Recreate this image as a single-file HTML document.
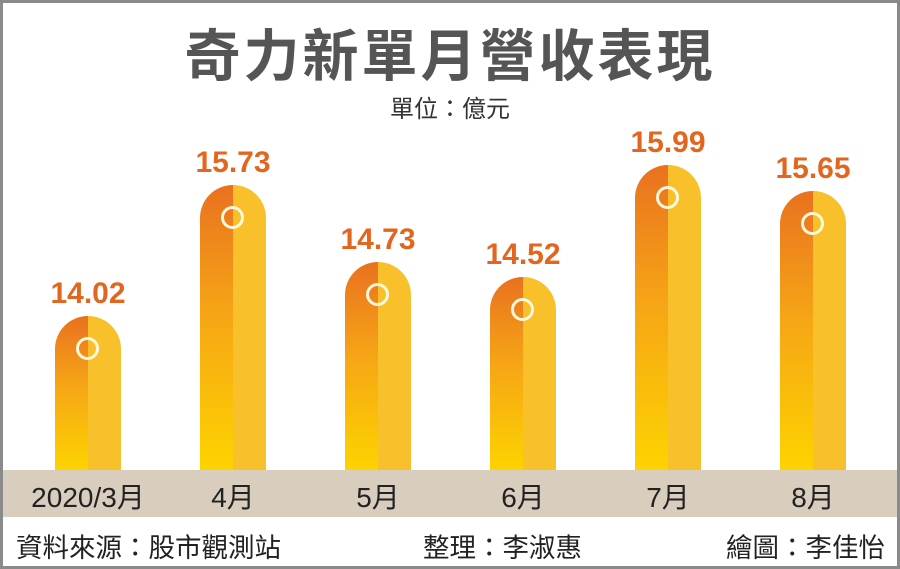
<!DOCTYPE html><html><head><meta charset="utf-8"><style>
body{margin:0;width:900px;height:569px;overflow:hidden;background:#fff;font-family:"Liberation Sans","Noto Sans CJK TC",sans-serif}
.f{position:absolute;left:0;top:0;width:894px;height:563px;border:3px solid #8a8a8a}
.t{position:absolute;left:0;width:900px;text-align:center}
.bar{position:absolute;width:66px;border-radius:33px 33px 0 0;overflow:hidden;bottom:99px}
.l{position:absolute;left:0;top:0;width:33px;height:100%;background:linear-gradient(#e9711f,#f6a516 45%,#fdd300)}
.r{position:absolute;left:33px;top:0;width:33px;height:100%;background:#f8c02a}
.c{position:absolute;left:21px;top:21px;width:17px;height:17px;border:3.5px solid #fff8dc;border-radius:50%}
.v{position:absolute;width:120px;text-align:center;color:#e2661e;font-weight:bold;font-size:30px}
.x{position:absolute;top:476px;width:160px;text-align:center;font-size:28px;color:#222}
.ft{position:absolute;top:526px;font-size:26.5px;color:#222}
</style></head><body><div class="f"></div>
<div class="t" style="top:12px;font-size:56px;font-weight:bold;color:#555;letter-spacing:3px">奇力新單月營收表現</div>
<div class="t" style="top:89px;font-size:24px;color:#333">單位：億元</div>
<div style="position:absolute;left:3px;top:470px;width:894px;height:47px;background:#d9cdbd"></div>
<div class="bar" style="left:55px;top:316px"><div class="l"></div><div class="r"></div><div class="c"></div></div>
<div class="bar" style="left:200px;top:185px"><div class="l"></div><div class="r"></div><div class="c"></div></div>
<div class="bar" style="left:345px;top:262px"><div class="l"></div><div class="r"></div><div class="c"></div></div>
<div class="bar" style="left:490px;top:277px"><div class="l"></div><div class="r"></div><div class="c"></div></div>
<div class="bar" style="left:635px;top:165px"><div class="l"></div><div class="r"></div><div class="c"></div></div>
<div class="bar" style="left:780px;top:191px"><div class="l"></div><div class="r"></div><div class="c"></div></div>
<div class="v" style="left:28px;top:277px">14.02</div>
<div class="v" style="left:173px;top:146px">15.73</div>
<div class="v" style="left:318px;top:223px">14.73</div>
<div class="v" style="left:463px;top:238px">14.52</div>
<div class="v" style="left:608px;top:126px">15.99</div>
<div class="v" style="left:753px;top:152px">15.65</div>
<div class="x" style="left:8px">2020/3月</div>
<div class="x" style="left:153px">4月</div>
<div class="x" style="left:298px">5月</div>
<div class="x" style="left:443px">6月</div>
<div class="x" style="left:588px">7月</div>
<div class="x" style="left:733px">8月</div>
<div class="ft" style="left:16px">資料來源：股市觀測站</div>
<div class="ft" style="left:423px">整理：李淑惠</div>
<div class="ft" style="left:726px">繪圖：李佳怡</div>
</body></html>
